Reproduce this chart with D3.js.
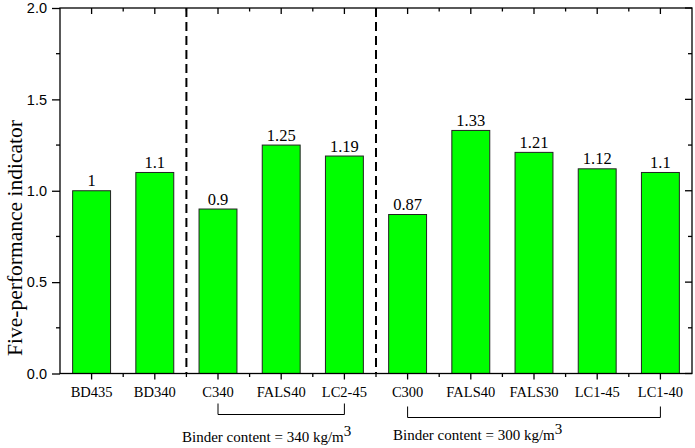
<!DOCTYPE html>
<html>
<head>
<meta charset="utf-8">
<script src="https://cdn.jsdelivr.net/npm/d3@7"></script>
<style>
body{margin:0;background:#fff;}
svg{display:block;}
.serif{font-family:"Liberation Serif","Times New Roman",Times,serif;}
.sans{font-family:"Liberation Sans",Arial,Helvetica,sans-serif;}
</style>
</head>
<body>
<svg id="chart" width="695" height="448"></svg>
<script>
const categories = ["BD435","BD340","C340","FALS40","LC2-45","C300","FALS40","FALS30","LC1-45","LC1-40"];
const values = [1, 1.1, 0.9, 1.25, 1.19, 0.87, 1.33, 1.21, 1.12, 1.1];
const valueLabels = ["1","1.1","0.9","1.25","1.19","0.87","1.33","1.21","1.12","1.1"];
const yTicks = [0, 0.5, 1.0, 1.5, 2.0];
const yMinorTicks = [0.25, 0.75, 1.25, 1.75];
const groups = [
  {from: 2, to: 4, label: "Binder content = 340 kg/m", sup: "3", drop: 0, textX: 182, textY: 442},
  {from: 5, to: 9, label: "Binder content = 300 kg/m", sup: "3", drop: 3, textX: 393, textY: 440}
];
const dividers = [2, 5];

const svg = d3.select("#chart");
const L = 60, R = 692, T = 8, B = 373.5;
const ids = d3.range(categories.length);
const x = d3.scaleBand().domain(ids).range([L, R]).paddingInner(0.4).paddingOuter(0.2);
const y = d3.scaleLinear().domain([0, 2]).range([B, T]);
const step = x.step();
const center = i => x(i) + x.bandwidth() / 2;
const boundary = i => L + step * i;

// bars
svg.append("g").selectAll("rect").data(ids).join("rect")
  .attr("x", i => x(i)).attr("width", x.bandwidth())
  .attr("y", i => y(values[i])).attr("height", i => y(0) - y(values[i]))
  .attr("fill", "#00ff00").attr("stroke", "#222").attr("stroke-width", 1);

// value labels
svg.append("g").selectAll("text").data(ids).join("text")
  .attr("class", "serif")
  .attr("x", i => center(i)).attr("y", i => y(values[i]) - 4.5)
  .attr("text-anchor", "middle").attr("font-size", 16.5)
  .text(i => valueLabels[i]);

// dividers
svg.append("g").selectAll("line").data(dividers).join("line")
  .attr("x1", d => boundary(d)).attr("x2", d => boundary(d))
  .attr("y1", T).attr("y2", B)
  .attr("stroke", "#000").attr("stroke-width", 2).attr("stroke-dasharray", "9,5");

// frame
const axW = 1.3;
svg.append("rect").attr("x", L).attr("y", T).attr("width", R - L).attr("height", B - T)
  .attr("fill", "none").attr("stroke", "#000").attr("stroke-width", axW);

// x ticks
const xt = svg.append("g").attr("stroke", "#000").attr("stroke-width", axW);
ids.forEach(i => {
  xt.append("line").attr("x1", center(i)).attr("x2", center(i)).attr("y1", B).attr("y2", B + 6);
  xt.append("line").attr("x1", center(i)).attr("x2", center(i)).attr("y1", T).attr("y2", T + 6);
});
d3.range(1, categories.length).forEach(i => {
  xt.append("line").attr("x1", boundary(i)).attr("x2", boundary(i)).attr("y1", B).attr("y2", B + 3.5);
  xt.append("line").attr("x1", boundary(i)).attr("x2", boundary(i)).attr("y1", T).attr("y2", T + 3.5);
});
svg.append("g").selectAll("text").data(ids).join("text")
  .attr("class", "serif")
  .attr("x", i => center(i)).attr("y", 397)
  .attr("text-anchor", "middle").attr("font-size", 14.5)
  .text(i => categories[i]);

// y axis
const yAxis = d3.axisLeft(y).tickValues(yTicks).tickSize(8).tickFormat(d3.format(".1f"));
const gy = svg.append("g").attr("transform", `translate(${L},0)`).call(yAxis);
gy.attr("font-family", null);
gy.select(".domain").remove();
gy.selectAll(".tick line").attr("stroke-width", axW);
gy.selectAll(".tick text").attr("class", "sans").attr("font-size", 14.5).attr("x", -13).attr("fill", "#000");
const yt = svg.append("g").attr("stroke", "#000").attr("stroke-width", axW);
yMinorTicks.forEach(v => {
  yt.append("line").attr("x1", L - 4).attr("x2", L).attr("y1", y(v)).attr("y2", y(v));
  yt.append("line").attr("x1", R - 4).attr("x2", R).attr("y1", y(v)).attr("y2", y(v));
});
yTicks.forEach(v => {
  yt.append("line").attr("x1", R - 7).attr("x2", R).attr("y1", y(v)).attr("y2", y(v));
});

svg.append("text")
  .attr("class", "serif")
  .attr("transform", `translate(21.5,238) rotate(-90)`)
  .attr("text-anchor", "middle").attr("font-size", 21.5)
  .text("Five-performance indicator");

// group brackets
groups.forEach(g => {
  const x1 = center(g.from), x2 = center(g.to);
  const y0 = 403.5 + g.drop, y1 = 414.5 + g.drop;
  svg.append("path")
    .attr("d", `M${x1},${y0}V${y1}H${x2}V${y0}`)
    .attr("fill", "none").attr("stroke", "#000").attr("stroke-width", 1);
  const t = svg.append("text")
    .attr("class", "serif")
    .attr("x", g.textX).attr("y", g.textY)
    .attr("text-anchor", "start").attr("font-size", 15);
  t.append("tspan").text(g.label);
  t.append("tspan").attr("dy", -6).text(g.sup);
});
</script>
</body>
</html>
